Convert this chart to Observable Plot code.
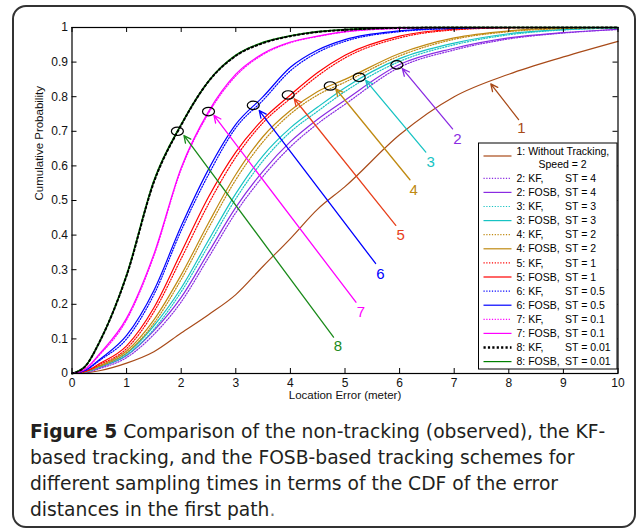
<!DOCTYPE html>
<html><head><meta charset="utf-8">
<script src="https://cdn.jsdelivr.net/npm/d3@7"></script>
<script src="https://cdn.jsdelivr.net/npm/@observablehq/plot@0.6"></script>
<style>
body{margin:0;background:#fff}
#fig{position:relative;width:637px;height:531px;overflow:hidden;background:#fff}
#border{position:absolute;left:12px;top:5px;width:624px;height:523px;border:2px solid #333;border-radius:14px;box-sizing:border-box}
#chart{position:absolute;left:0;top:0}
#caption{position:absolute;left:30px;top:418.5px;width:600px;font-family:"DejaVu Sans",sans-serif;font-size:18.7px;line-height:26.2px;color:#231f20;white-space:nowrap}
#caption b{font-weight:700}
</style></head><body>
<div id="fig"><div id="border"></div><div id="chart"></div><div id="caption"></div></div>
<script>
// ---- data ----
const errorGrid = [0,0.25,0.5,1,1.5,2,2.5,3,3.5,4,4.5,5,6,7,8,9,10];
const cdfWithoutTracking = [0,0.002,0.008,0.03,0.063,0.117,0.17,0.228,0.31,0.39,0.475,0.54,0.69,0.80,0.865,0.915,0.96];
const kfST4   = [0,0.003,0.014,0.046,0.113,0.207,0.335,0.465,0.57,0.655,0.722,0.778,0.885,0.935,0.967,0.984,0.994];
const fosbST4 = [0,0.004,0.017,0.052,0.124,0.22,0.35,0.48,0.585,0.67,0.735,0.79,0.893,0.94,0.97,0.985,0.995];
const kfST3   = [0,0.004,0.018,0.053,0.128,0.236,0.37,0.505,0.615,0.698,0.758,0.815,0.902,0.95,0.979,0.993,0.999];
const fosbST3 = [0,0.005,0.02,0.058,0.138,0.247,0.385,0.52,0.63,0.71,0.77,0.826,0.91,0.955,0.982,0.994,0.999];
const kfST2   = [0,0.005,0.02,0.06,0.145,0.272,0.42,0.56,0.67,0.75,0.805,0.842,0.918,0.966,0.988,0.997,1];
const fosbST2 = [0,0.006,0.022,0.065,0.155,0.285,0.435,0.575,0.685,0.76,0.815,0.85,0.925,0.97,0.99,0.998,1];
const kfST1   = [0,0.006,0.025,0.072,0.178,0.332,0.49,0.625,0.725,0.795,0.86,0.912,0.97,0.993,0.999,1,1];
const fosbST1 = [0,0.007,0.028,0.08,0.19,0.35,0.51,0.64,0.735,0.805,0.87,0.92,0.975,0.995,1,1,1];
const kfST05   = [0,0.009,0.037,0.10,0.228,0.413,0.575,0.71,0.79,0.875,0.928,0.96,0.988,0.997,1,1,1];
const fosbST05 = [0,0.01,0.04,0.11,0.24,0.426,0.59,0.72,0.80,0.885,0.935,0.965,0.99,0.998,1,1,1];
const kfST01   = [0,0.013,0.053,0.155,0.34,0.59,0.752,0.86,0.922,0.956,0.974,0.987,0.997,1,1,1,1];
const fosbST01 = [0,0.014,0.056,0.16,0.345,0.595,0.757,0.865,0.925,0.958,0.975,0.988,0.998,1,1,1,1];
const kfST001   = [0,0.022,0.09,0.283,0.553,0.718,0.844,0.918,0.955,0.975,0.987,0.993,0.999,1,1,1,1];
const fosbST001 = [0,0.022,0.09,0.285,0.557,0.72,0.845,0.92,0.957,0.976,0.988,0.994,0.999,1,1,1,1];

const groupIds = ["2","3","4","5","6","7","8"];
const sampleTimes = ["4","3","2","1","0.5","0.1","0.01"];
const kfSeries = [kfST4,kfST3,kfST2,kfST1,kfST05,kfST01,kfST001];
const fosbSeries = [fosbST4,fosbST3,fosbST2,fosbST1,fosbST05,fosbST01,fosbST001];
const groupColors = ["#8a2be2","#17c3c3","#c08a12","#ff0000","#0000ff","#ff00ff","#008000"];
const kfColors = ["#8a2be2","#17c3c3","#c08a12","#ff0000","#0000ff","#ff00ff","#000000"];
const brown = "#a84a18";

// annotation positions
const labelIds   = ["1","2","3","4","5","6","7","8"];
const labelColors= [brown,"#8a2be2","#17c3c3","#c08a12","#e8401c","#0000ff","#ff00ff","#1a8a1a"];
const labelX = [8.23,7.06,6.57,6.26,6.02,5.65,5.29,4.87];
const labelY = [0.708,0.678,0.611,0.531,0.399,0.286,0.177,0.078];
const tailX  = [8.18,6.97,6.48,6.19,5.93,5.56,5.20,4.79];
const tailY  = [0.734,0.707,0.640,0.560,0.428,0.318,0.206,0.105];
const tipX   = [7.67,6.05,5.38,4.83,4.07,3.43,2.60,2.05];
const tipY   = [0.837,0.881,0.847,0.823,0.794,0.760,0.746,0.688];
const circleX = [5.95,5.26,4.73,3.96,3.32,2.50,1.93];
const circleY = [0.892,0.856,0.831,0.805,0.775,0.757,0.700];

const xTicks = [0,1,2,3,4,5,6,7,8,9,10];
const yTicks = [0,0.1,0.2,0.3,0.4,0.5,0.6,0.7,0.8,0.9,1];

// ---- build ----
const W = 637, H = 410, mL = 71.5, mR = 19.5, mT = 27, mB = 37;
const frameW = W - mL - mR, frameH = H - mT - mB, tickLen = 5;
const toRows = ys => errorGrid.map((x,i) => ({x, y: ys[i]}));

const lineMarks = [];
lineMarks.push(Plot.line(toRows(cdfWithoutTracking), {x:"x", y:"y", stroke: brown, strokeWidth:1.2, curve:"monotone-x"}));
fosbSeries.forEach((s,i) => lineMarks.push(Plot.line(toRows(s), {x:"x", y:"y", stroke: groupColors[i], strokeWidth: i===6 ? 1.6 : 1.2, curve:"monotone-x"})));
kfSeries.forEach((s,i) => lineMarks.push(Plot.line(toRows(s), {x:"x", y:"y", stroke: kfColors[i],
  strokeWidth: i===6 ? 2 : 1.2, strokeDasharray: i===6 ? "1.8,2.6" : "1.2,1.6", curve:"monotone-x"})));

const ann = labelIds.map((id,i) => ({id, color: labelColors[i], lx: labelX[i], ly: labelY[i], tx: tailX[i], ty: tailY[i], hx: tipX[i], hy: tipY[i]}));
const circles = circleX.map((x,i) => ({x, y: circleY[i]}));

const ellipse = {draw(ctx){ const rx=6, ry=4.2, k=0.5523;
  ctx.moveTo(rx,0);
  ctx.bezierCurveTo(rx, ry*k, rx*k, ry, 0, ry);
  ctx.bezierCurveTo(-rx*k, ry, -rx, ry*k, -rx, 0);
  ctx.bezierCurveTo(-rx, -ry*k, -rx*k, -ry, 0, -ry);
  ctx.bezierCurveTo(rx*k, -ry, rx, -ry*k, rx, 0);
  ctx.closePath(); }};

const chart = Plot.plot({
  width: W, height: H, marginLeft: mL, marginRight: mR, marginTop: mT, marginBottom: mB,
  x: {domain: [0,10]}, y: {domain: [0,1]},
  style: {background: "transparent", fontFamily: "'Liberation Sans', Arial, sans-serif", fontSize: "12px", color: "#111", overflow: "visible"},
  marks: [
    ...lineMarks,
    Plot.ruleX(xTicks, {x: d=>d, insetTop: frameH - tickLen, stroke:"#000"}),
    Plot.ruleX(xTicks, {x: d=>d, insetBottom: frameH - tickLen, stroke:"#000"}),
    Plot.ruleY(yTicks, {y: d=>d, insetRight: frameW - tickLen, stroke:"#000"}),
    Plot.ruleY(yTicks, {y: d=>d, insetLeft: frameW - tickLen, stroke:"#000"}),
    Plot.frame({stroke:"#000", strokeWidth:1.2}),
    Plot.axisX({ticks: xTicks, tickSize: 0, tickPadding: 5, label: null, tickFormat: d => String(d), fontSize: 12}),
    Plot.axisY({ticks: yTicks, tickSize: 0, tickPadding: 4, label: null, tickFormat: d => String(d), fontSize: 12}),
    Plot.text(["Location Error (meter)"], {frameAnchor: "bottom", dy: 25, fontSize: 11.5}),
    Plot.text(["Cumulative Probability"], {frameAnchor: "left", dx: -33, rotate: -90, fontSize: 11.5}),
    Plot.arrow(ann, {x1:"tx", y1:"ty", x2:"hx", y2:"hy", stroke:"color", strokeWidth:1.3, headLength: 9, headAngle: 50}),
    Plot.text(ann, {x:"lx", y:"ly", text:"id", fill:"color", fontSize: 15}),
    Plot.dot(circles, {x:"x", y:"y", symbol: ellipse, stroke:"#000", strokeWidth:1.2, fill:"none"})
  ]
});
document.getElementById("chart").appendChild(chart);

// ---- legend ----
const svg = d3.select(chart);
const lg = svg.append("g").attr("font-family", "'Liberation Sans', Arial, sans-serif").attr("font-size", 10.5)
  .attr("fill", "#000").attr("text-anchor", "start");
const box = {x: 478.5, y: 143, w: 138.5, h: 226};
lg.append("rect").attr("x", box.x).attr("y", box.y).attr("width", box.w).attr("height", box.h).attr("fill", "#fff").attr("stroke", "#000").attr("stroke-width", 1);
const sx1 = box.x + 5, sx2 = box.x + 33, tx = box.x + 38, stx = box.x + 86.5;
// row 0
lg.append("line").attr("x1", sx1).attr("x2", sx2).attr("y1", 156).attr("y2", 156).attr("stroke", brown).attr("stroke-width", 1.2);
lg.append("text").attr("x", tx).attr("y", 151.5).attr("dy", "0.35em").text("1: Without Tracking,");
lg.append("text").attr("x", tx + 22).attr("y", 164.7).attr("dy", "0.35em").text("Speed = 2");
let row = 0;
groupIds.forEach((g,i) => {
  [["KF", kfColors[i], true], ["FOSB", groupColors[i], false]].forEach(([name, col, dotted]) => {
    const y = 178.3 + row * 14.1;
    const l = lg.append("line").attr("x1", sx1).attr("x2", sx2).attr("y1", y).attr("y2", y).attr("stroke", col)
      .attr("stroke-width", (dotted && i===6) ? 2.4 : 1.2);
    if (dotted) l.attr("stroke-dasharray", i===6 ? "2.2,2.2" : "1.2,1.6");
    lg.append("text").attr("x", tx).attr("y", y).attr("dy", "0.35em").text(`${g}: ${name},`);
    lg.append("text").attr("x", stx).attr("y", y).attr("dy", "0.35em").text(`ST = ${sampleTimes[i]}`);
    row++;
  });
});

// ---- caption ----
document.getElementById("caption").innerHTML =
  "<b>Figure 5</b> Comparison of the non-tracking (observed), the KF-<br>" +
  "based tracking, and the FOSB-based tracking schemes for<br>" +
  "different sampling times in terms of the CDF of the error<br>" +
  "distances in the first path<span style='color:#777'>.</span>";
</script>
</body></html>
